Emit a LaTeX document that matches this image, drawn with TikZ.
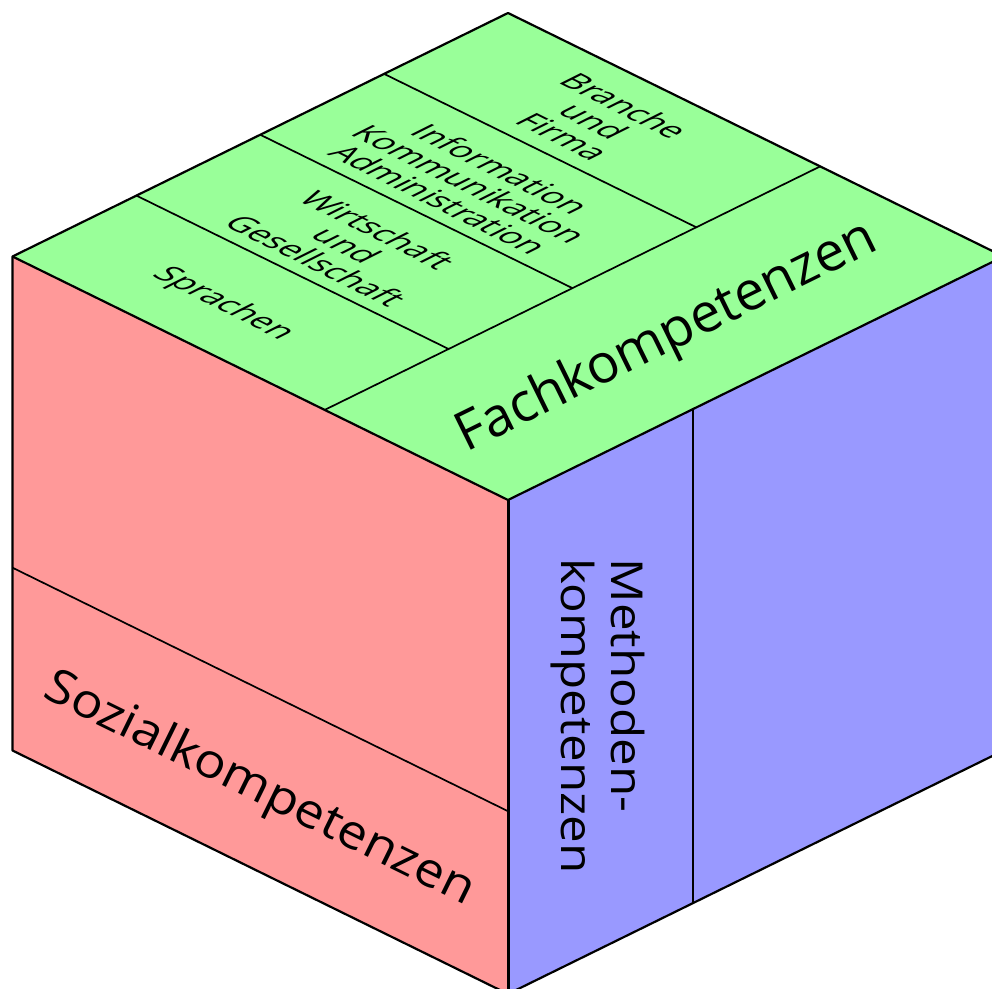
\documentclass[tikz,border=0pt]{standalone}
\usepackage{fontspec}
\setmainfont{Open Sans}
\definecolor{topg}{RGB}{153,255,153}
\definecolor{leftr}{RGB}{255,153,153}
\definecolor{rightb}{RGB}{153,153,255}
\tikzset{
  outer/.style={line width=2.2pt, line join=round},
  inner/.style={line width=1.7pt},
  bigtxt/.style={inner sep=0pt, font=\fontsize{47.5}{50}\selectfont},
  smalltxt/.style={inner sep=0pt, align=center, transform shape, font=\fontsize{33}{34.5}\selectfont},
  topface/.style={cm={0.894,-0.447,0.894,0.447,#1}}
}
\begin{document}
\begin{tikzpicture}[x=1pt,y=1pt]
\useasboundingbox (0,0) rectangle (992,988);
\clip (0,0) rectangle (992,988);
% vertices
\coordinate (F) at (508,488);
\coordinate (L) at (12.5,731.5);
\coordinate (T) at (508,975);
\coordinate (R) at (1003.5,731.5);
\coordinate (Fb) at (508,-6);
\coordinate (Lb) at (12.5,237.5);
\coordinate (Rb) at (1003.5,237.5);
% inner line ends
\coordinate (s0) at (324.7,578.1);
\coordinate (s1) at (820.2,821.6);
\coordinate (a1) at (448.6,639.0);
\coordinate (b1) at (136.4,792.4);
\coordinate (a2) at (572.45,699.85);
\coordinate (b2) at (260.25,853.25);
\coordinate (a3) at (696.3,760.7);
\coordinate (b3) at (384.1,914.1);
\coordinate (l0) at (12.5,420.3);
\coordinate (l1) at (508,176.8);
\coordinate (r0) at (692.8,578.8);
\coordinate (r1) at (692.8,84.8);
% faces
\fill[topg] (L) -- (F) -- (R) -- (T) -- cycle;
\fill[leftr] (L) -- (F) -- (Fb) -- (Lb) -- cycle;
\fill[rightb] (F) -- (R) -- (Rb) -- (Fb) -- cycle;
% inner lines
\draw[inner] (s0) -- (s1);
\draw[inner] (a1) -- (b1);
\draw[inner] (a2) -- (b2);
\draw[inner] (a3) -- (b3);
\draw[inner] (l0) -- (l1);
\draw[line width=2.2pt] (r0) -- (r1);
% outer edges
\draw[outer] (L) -- (T) -- (R) -- (Rb) -- (Fb) -- (Lb) -- cycle;
\draw[outer] (L) -- (F) -- (R);
\draw[line width=3pt] (F) -- (Fb);
% texts
\node[bigtxt, rotate=-26.2, xscale=1.1] (soz) at (259,198) {Sozialkompetenzen};
\node[bigtxt, rotate=26.2, font=\fontsize{54}{60}\selectfont] (fach) at (667,650) {Fachkompetenzen};
\node[bigtxt, rotate=-90, xscale=1.12, align=left, font=\fontsize{44}{50}\selectfont] (meth) at (598,272) {Methoden-\\kompetenzen};
\begin{scope}[topface={(223,684)}]
\node[smalltxt] (spr) at (0,0) {Sprachen};
\end{scope}
\begin{scope}[topface={(347,743)}]
\node[smalltxt] (wir) at (0,0) {Wirtschaft\\und\\Gesellschaft};
\end{scope}
\begin{scope}[topface={(470,804)}]
\node[smalltxt] (inf) at (0,0) {Information\\Kommunikation\\Administration};
\end{scope}
\begin{scope}[topface={(594,867)}]
\node[smalltxt] (bra) at (0,0) {Branche\\und\\Firma};
\end{scope}
\end{tikzpicture}
\end{document}
